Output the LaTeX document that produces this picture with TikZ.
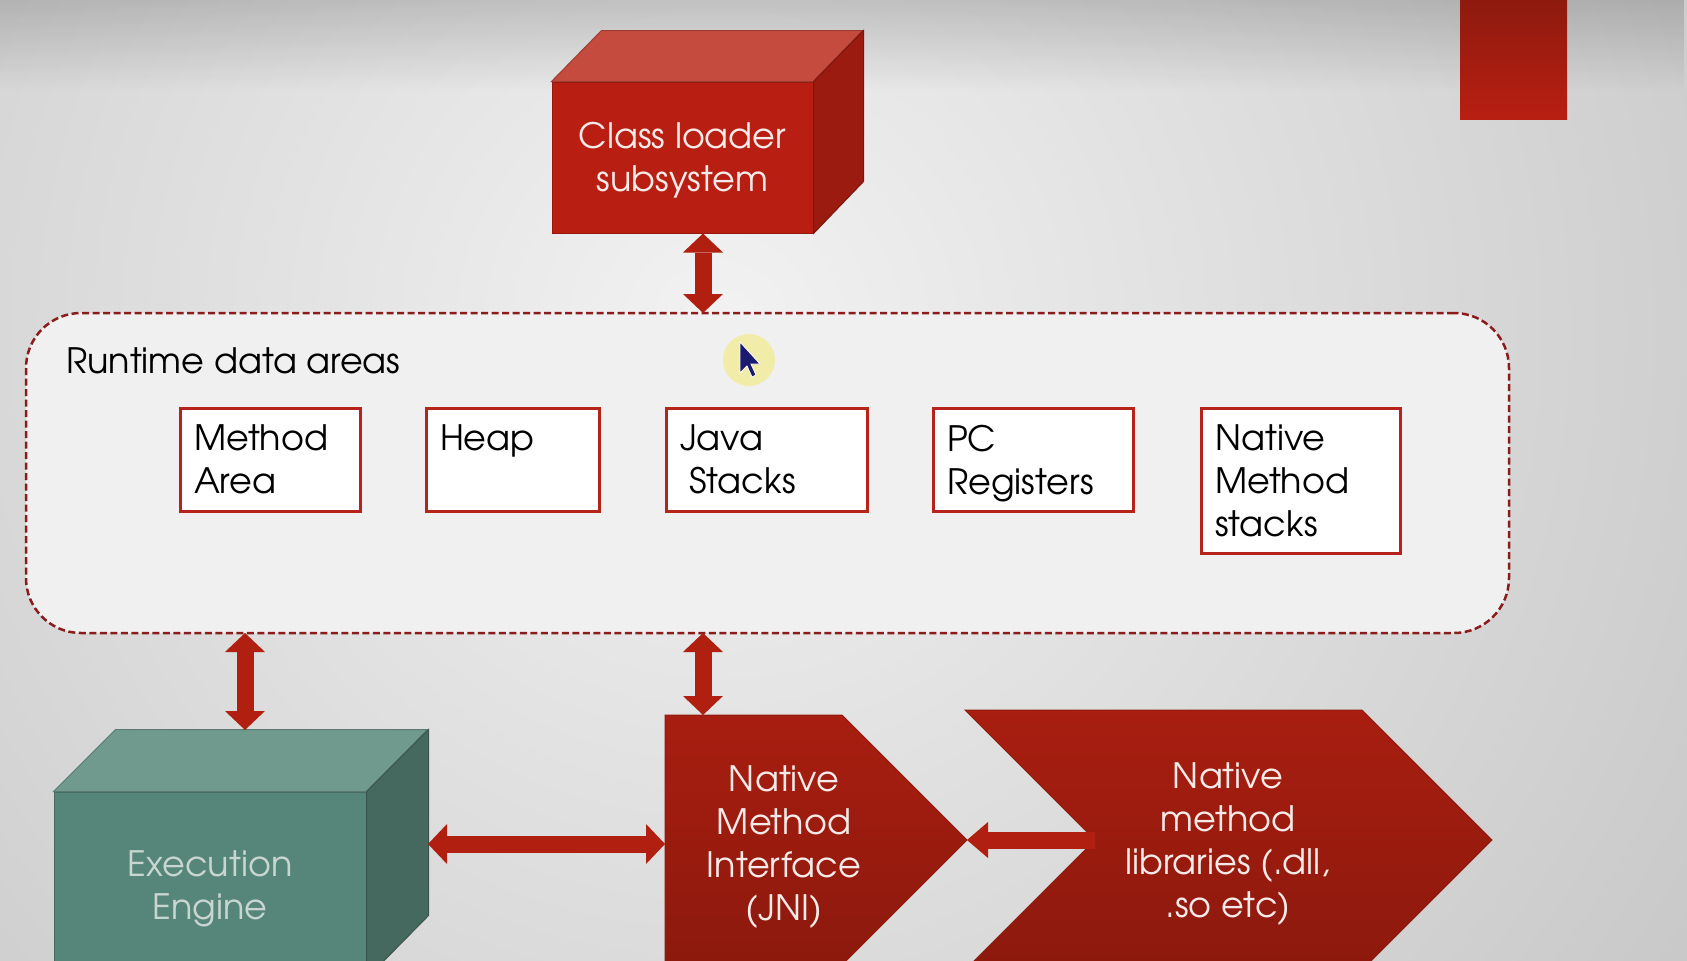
\documentclass[tikz,border=0pt]{standalone}
\usepackage{fontspec}
\setmainfont{TeX Gyre Adventor}
\usetikzlibrary{arrows.meta,positioning,calc,fadings}

\definecolor{bgin}{HTML}{F2F2F2}
\definecolor{bgout}{HTML}{A3A3A3}
\definecolor{redfront}{HTML}{B81F12}
\definecolor{redtop}{HTML}{C44B3E}
\definecolor{redside}{HTML}{9B1B10}
\definecolor{redline}{HTML}{8E1A0E}
\definecolor{redup}{HTML}{A81E10}
\definecolor{reddown}{HTML}{8C190D}
\definecolor{arrred}{HTML}{B01F10}
\definecolor{tealfront}{HTML}{56857A}
\definecolor{tealtop}{HTML}{6F9A8D}
\definecolor{tealside}{HTML}{46695F}
\definecolor{tealtext}{HTML}{C9D6D0}
\definecolor{whitetext}{HTML}{F5EAE8}
\definecolor{dashred}{HTML}{8B1C1C}
\definecolor{boxred}{HTML}{B5231A}
\definecolor{rtfill}{HTML}{F0F0F0}
\definecolor{halo}{HTML}{F2EC9C}
\definecolor{cursor}{HTML}{1A1A6E}

\newcommand{\dfont}{\fontsize{35}{43}\selectfont}
\newcommand{\areatext}[3]{\parbox[t][#2][t]{#1}{\vspace*{2pt}#3}}

\tikzset{
	face/.style={draw=#1!80!black, line width=1pt, fill=#1},
	cubefront/.style={face=#1, inner sep=0pt},
	facetext/.style={font=\dfont, align=center, text=#1},
	area/.style={draw=boxred, line width=3pt, fill=white, anchor=north west, inner xsep=14pt, inner ysep=15pt, outer sep=0pt, font=\dfont},
	bigarr/.style={draw=arrred, line width=17pt, {Triangle[width=40pt,length=19pt,line width=0pt]}-{Triangle[width=40pt,length=19pt,line width=0pt]}},
	onearr/.style={draw=arrred, line width=17pt, -{Triangle[width=36pt,length=21pt,line width=0pt]}},
	chevron/.style={draw=redline, line width=1pt, top color=redup, bottom color=reddown},
}

\begin{document}
\begin{tikzpicture}[x=1pt,y=-1pt]
	\useasboundingbox (0,0) rectangle (1687,961);
	\clip (0,0) rectangle (1687,961);
	\shade[inner color=bgin, outer color=bgout] (720,330) circle (2200);
	\fill[black, opacity=.25, path fading=south] (0,-50) rectangle (1687,90);
	\shade[top color=redline, bottom color=redfront] (1460,0) rectangle (1567,119);

	% class loader
	\node[cubefront=redfront, minimum width=261pt, minimum height=151pt] (cl) at (682.5,157.5) {};
	\filldraw[face=redtop] (cl.north west) -- ++(50,-51) -- ++(261,0) -- (cl.north east) -- cycle;
	\filldraw[face=redside] (cl.north east) -- ++(50,-51) -- ++(0,151) -- (cl.south east) -- cycle;
	\node[facetext=whitetext] (cl-txt) at ([yshift=-3pt]cl.center) {Class loader\\subsystem};

	% runtime data areas
	\node[draw=dashred, line width=2.5pt, dash pattern=on 7pt off 3.5pt, fill=rtfill, rounded corners=55pt, minimum width=1483pt, minimum height=320pt, outer sep=0pt] (rt) at (767.5,473) {};
	\node[font=\dfont, anchor=base west, inner sep=0pt] (rtlbl) at (66,373) {Runtime data areas};
	\node[area] (ma) at (180,408) {\areatext{152pt}{73pt}{Method\\Area}};
	\node[area] (heap) at (426,408) {\areatext{145pt}{73pt}{Heap}};
	\node[area] (js) at (666,408) {\areatext{173pt}{73pt}{Java\\\hspace*{9pt}Stacks}};
	\node[area] (pc) at (933,408) {\areatext{172pt}{73pt}{PC\\Registers}};
	\node[area] (nms) at (1201,408) {\areatext{171pt}{115pt}{Native\\Method\\stacks}};

	% execution engine
	\node[cubefront=tealfront, minimum width=312pt, minimum height=186pt] (ee) at (210,885) {};
	\filldraw[face=tealtop] (ee.north west) -- ++(62,-62) -- ++(312,0) -- (ee.north east) -- cycle;
	\filldraw[face=tealside] (ee.north east) -- ++(62,-62) -- ++(0,186) -- (ee.south east) -- cycle;
	\node[facetext=tealtext] (ee-txt) at ([yshift=-4pt]ee.center) {Execution\\Engine};

	% native interface and libraries
	\shadedraw[chevron] (665,715) coordinate (jni-nw) -- (842,715) -- (967,840) coordinate (jni-tip) -- (842,965) -- (665,965) -- cycle;
	\node[facetext=whitetext] (jni) at (784,847) {Native\\Method\\Interface\\(JNI)};
	\shadedraw[chevron] (965,710) -- (1362,710) -- (1492,840) -- (1362,970) -- (965,970) -- (1095,840) coordinate (lib-in) -- cycle;
	\node[facetext=whitetext] (lib) at (1228,844) {Native\\method\\libraries (.dll,\\.so etc)};

	% arrows
	\coordinate (mid) at (703,0);
	\coordinate (ee-top) at (245,730);
	\coordinate (ee-side) at (428,844);
	\draw[bigarr] (cl.south -| mid) -- (rt.north -| mid);
	\draw[bigarr] (rt.south -| mid) -- (jni-nw -| mid);
	\draw[bigarr] (rt.south -| ee-top) -- (ee-top);
	\draw[bigarr] (ee-side) -- (jni-nw |- ee-side);
	\draw[onearr] (lib-in) -- (jni-tip);

	% pointer
	\fill[halo, opacity=.85] (749,360) circle (26);
	\filldraw[fill=cursor, draw=white, line width=.8pt] (740,342) -- (740,373) -- (747,366) -- (752,377) -- (756,375) -- (751,364) -- (760,364) -- cycle;
\end{tikzpicture}
\end{document}
